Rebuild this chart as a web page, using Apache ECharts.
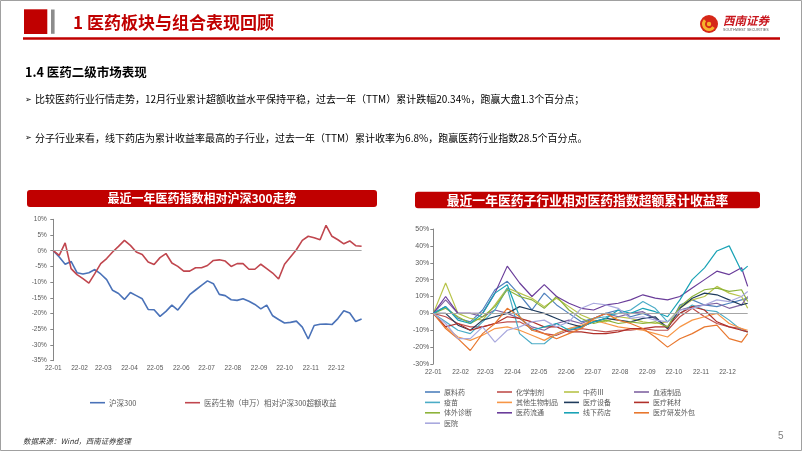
<!DOCTYPE html>
<html><head><meta charset="utf-8">
<script src="https://cdn.jsdelivr.net/npm/echarts@6/dist/echarts.min.js"></script>
<style>html,body{margin:0;padding:0;background:#fff}#c{width:802px;height:451px}</style>
</head><body><div id="c"></div>
<script>
// ---------- data ----------
const weeks = ['2022-01-01','2022-01-08','2022-01-15','2022-01-22','2022-01-29','2022-02-05','2022-02-12','2022-02-19','2022-02-26','2022-03-05','2022-03-12','2022-03-19','2022-03-26','2022-04-02','2022-04-09','2022-04-16','2022-04-23','2022-04-30','2022-05-07','2022-05-14','2022-05-21','2022-05-28','2022-06-04','2022-06-11','2022-06-18','2022-06-25','2022-07-02','2022-07-09','2022-07-16','2022-07-23','2022-07-30','2022-08-06','2022-08-13','2022-08-20','2022-08-27','2022-09-03','2022-09-10','2022-09-17','2022-09-24','2022-10-01','2022-10-08','2022-10-15','2022-10-22','2022-10-29','2022-11-05','2022-11-12','2022-11-19','2022-11-26','2022-12-03','2022-12-10','2022-12-17','2022-12-24','2022-12-31'];
const hs300 = [0,-2,-4.3,-3.4,-7,-7.4,-7,-6,-7.4,-9.2,-12.6,-13.6,-15.5,-13.3,-14.3,-15.3,-18.7,-18.8,-20.9,-19.3,-17.3,-18.9,-16.5,-14,-12.5,-11,-9.6,-10.5,-13.9,-14.3,-15.6,-15.8,-15.3,-16.1,-17.1,-18.5,-17.3,-20.7,-21.9,-23.0,-22.8,-22.4,-24.3,-28.1,-23.8,-23.4,-23.3,-23.5,-21.6,-19.1,-19.8,-22.5,-21.7];
const pharmaExcess = [0,-1.5,2.5,-5.7,-7.6,-8.9,-10.3,-7.3,-4.1,-2.5,-0.4,1.4,3.3,1.7,-0.4,-1.2,-3.6,-4.4,-2.2,-0.9,-3.9,-5.0,-6.5,-6.5,-5.4,-5.4,-4.7,-3.1,-2.9,-3.3,-5.0,-4.1,-4.1,-5.9,-5.9,-4.3,-5.7,-7.1,-9.0,-4.3,-2.0,0.3,3.3,4.6,4.1,3.5,8.1,4.6,3.5,2.2,3.1,1.6,1.4];

const biweeks = ['2022-01-01','2022-01-15','2022-01-29','2022-02-12','2022-02-26','2022-03-12','2022-03-26','2022-04-09','2022-04-23','2022-05-07','2022-05-21','2022-06-04','2022-06-18','2022-07-02','2022-07-16','2022-07-30','2022-08-13','2022-08-27','2022-09-10','2022-09-24','2022-10-08','2022-10-22','2022-11-05','2022-11-19','2022-12-03','2022-12-17','2022-12-24'];
const yuanLiaoYao   = [0,4,-3,-5,2,14,19,11,2,12,5,0,-5,-3,0,2,-2,0,-3,-9,5,8,5,4,6,8,9];
const huaXueZhiJi   = [0,-2,-6,-8,-8,-6,-5,-5,-9,-12,-13,-10,-9,-10,-11,-10,-10,-9,-10,-10,-2,3,-2,-6,-8,-9,-11];
const zhongYao      = [0,18,0,-3,-4,5,15,12,9,4,9,4,-1,-4,-5,-2,-3,-5,-6,-5,3,8,10,16,12,10,3];
const xueYe         = [0,8,0,0,-2,2,0,-3,-8,-10,-6,-4,-6,-3,0,-2,0,1,-3,-8,2,4,5,6,3,5,10];
const yiMiao        = [0,-5,-10,-12,-5,2,15,-12,-18,-18,-12,-9,-8,-3,-2,0,2,7,3,-5,0,5,2,1,-4,-10,-11];
const qiTaShengWu   = [0,-8,-14,-16,-13,-9,-8,-10,-13,-16,-12,-9,-7,-4,-6,-8,-9,-10,-12,-14,-8,-4,-2,0,-6,-9,-10];
const sheBei        = [0,0,-7,-10,-4,-2,0,4,2,0,-3,-6,-8,-5,-3,-4,-5,-3,-2,-9,3,9,12,11,8,5,6];
const haoCai        = [0,-8,-6,-10,-8,-6,-2,-3,-5,-8,-8,-11,-11,-12,-12,-11,-9,-9,-8,-8,0,4,2,-5,-8,-10,-11];
const tiWai         = [0,3,-2,-6,-2,4,14,10,8,3,10,2,-3,-6,-4,-6,-5,-6,-5,-8,4,10,14,15,13,14,7];
const liuTong       = [0,10,0,0,0,12,28,18,10,17,10,6,3,2,5,6,8,11,9,8,10,15,20,25,23,27,16];
const yaoDian        = [0,4,-4,-6,0,12,17,-2,-10,-8,-6,-10,-8,-5,-3,2,0,3,1,-2,8,20,27,37,40,25,28];
const waiBao        = [0,-9,-15,-22,-12,-6,3,-2,-10,-12,-15,-12,-9,-3,0,-4,-6,-9,-14,-20,-15,-12,-8,-7,-15,-17,-12];
const yiYuan        = [0,-6,-15,-15,-8,-17,-10,-8,-5,-4,-8,-5,3,6,5,3,-3,-2,-4,-5,2,3,5,8,7,10,13];

const subNames = ['原料药','化学制剂','中药Ⅲ','血液制品','疫苗','其他生物制品','医疗设备','医疗耗材','体外诊断','医药流通','线下药店','医疗研发外包','医院'];
const subData = [yuanLiaoYao,huaXueZhiJi,zhongYao,xueYe,yiMiao,qiTaShengWu,sheBei,haoCai,tiWai,liuTong,yaoDian,waiBao,yiYuan];
const subColors = ['#4F81BD','#C0504D','#B8C44A','#8064A2','#4BACC6','#F79646','#1F3B5C','#B0302A','#8DB33A','#6A3D9A','#1AA3B6','#E8772E','#A9A9DE'];

// ---------- chart ----------
const CJK = '"Noto Sans CJK SC", "Liberation Sans", sans-serif';
const NUM = '"Liberation Sans", Arial, sans-serif';
const chart = echarts.init(document.getElementById('c'));

function T(x, y, text, st) {
  return {type:'text', x:x, y:y, silent:true,
    style: Object.assign({text:text, fill:'#000', fontSize:10, fontFamily:CJK, verticalAlign:'middle', align:'left'}, st || {})};
}
function R(x, y, w, h, fill, r) {
  return {type:'rect', silent:true, shape:{x:x, y:y, width:w, height:h, r:r||0}, style:{fill:fill}};
}

const xBase = {
  type:'time', splitNumber:12, minInterval:28*864e5, maxInterval:31*864e5,
  axisLine:{show:false}, axisTick:{show:false}, splitLine:{show:false},
  axisLabel:{formatter:'{yy}-{MM}', fontSize:6.5, color:'#595959', fontFamily:NUM, hideOverlap:false, showMaxLabel:false}
};
function yAxis(min, max, itv, gi, margin, fs) {
  return {type:'value', gridIndex:gi, min:min, max:max, interval:itv,
    axisLine:{show:true, lineStyle:{color:'#868686', width:1}},
    axisTick:{show:true, length:3, lineStyle:{color:'#868686'}},
    splitLine:{show:false},
    axisLabel:{formatter:'{value}%', fontSize:fs, color:'#595959', fontFamily:NUM, margin:margin}};
}
const zeroLine = {silent:true, symbol:'none', label:{show:false}, lineStyle:{color:'#A6A6A6', type:'solid', width:1}, data:[{yAxis:0}], animation:false};

const series = [
  {name:'沪深300', type:'line', xAxisIndex:0, yAxisIndex:0, data: weeks.map((d,i)=>[d, hs300[i]]),
   showSymbol:false, color:'#4A72B8', lineStyle:{width:1.6}, markLine: zeroLine, z:3},
  {name:'医药生物（申万）相对沪深300超额收益', type:'line', xAxisIndex:0, yAxisIndex:0, data: weeks.map((d,i)=>[d, pharmaExcess[i]]),
   showSymbol:false, color:'#C0464E', lineStyle:{width:1.6}, z:3}
];
subNames.forEach((n, k) => {
  const s = {name:n, type:'line', xAxisIndex:1, yAxisIndex:1, data: biweeks.map((d,i)=>[d, subData[k][i]]),
    showSymbol:false, color:subColors[k], lineStyle:{width:1.2}, z:3};
  if (k === 0) s.markLine = zeroLine;
  series.push(s);
});

function legend(left, top, names, gap, fs) {
  return {left:left, top:top, orient:'vertical', padding:0, itemGap:gap, itemWidth:15, itemHeight:1.6, icon:'rect',
    selectedMode:false, data:names,
    textStyle:{fontSize:fs, color:'#595959', fontFamily:CJK, lineHeight:10, padding:[0,0,0,-1]}};
}

chart.setOption({
  animation:false,
  backgroundColor:'#fff',
  grid:[
    {left:53.3, top:219.3, width:308.3, height:141.4},
    {left:433.3, top:229, width:314.4, height:135}
  ],
  xAxis:[
    Object.assign({}, xBase, {gridIndex:0, min:'2022-01-01', max:'2022-12-31', axisLabel:Object.assign({}, xBase.axisLabel, {margin:4})}),
    Object.assign({}, xBase, {gridIndex:1, min:'2022-01-01', max:'2022-12-24', axisLabel:Object.assign({}, xBase.axisLabel, {margin:5})})
  ],
  yAxis:[ yAxis(-35, 10, 5, 0, 6.5, 6.5), yAxis(-30, 50, 10, 1, 4, 7) ],
  legend:[
    legend(90, 397.7, ['沪深300'], 0, 7.5),
    legend(185, 397.7, ['医药生物（申万）相对沪深300超额收益'], 0, 7.5),
    legend(425, 387, ['原料药','疫苗','体外诊断','医院'], 0.4, 7),
    legend(497, 387, ['化学制剂','其他生物制品','医药流通'], 0.4, 7),
    legend(564, 387, ['中药Ⅲ','医疗设备','线下药店'], 0.4, 7),
    legend(634, 387, ['血液制品','医疗耗材','医疗研发外包'], 0.4, 7)
  ],
  graphic:[
    {type:'rect', silent:true, shape:{x:0.5, y:0.5, width:801, height:450}, style:{fill:'none', stroke:'#A0A0A0', lineWidth:1}},
    R(24, 9.3, 23.3, 24.7, '#C00000'),
    R(51, 9.5, 3.6, 24.3, '#8C8C8C'),
    T(73, 23, '1 医药板块与组合表现回顾', {fill:'#C00000', fontSize:17, fontWeight:'bold'}),
    R(23, 37.3, 757, 2.4, '#C00000'),
    // logo
    {type:'circle', silent:true, shape:{cx:709, cy:24, r:9}, style:{fill:'#D62718'}},
    {type:'arc', silent:true, shape:{cx:709, cy:24, r:5.5, startAngle:0.6, endAngle:3.9}, style:{stroke:'#F6B12B', lineWidth:3, fill:'none'}},
    {type:'circle', silent:true, shape:{cx:709, cy:24, r:2.2}, style:{fill:'#F6B12B'}},
    T(723, 21, '西南证券', {fill:'#C8161D', fontSize:11.5, fontWeight:'bold', fontStyle:'italic'}),
    T(723, 29.5, 'SOUTHWEST SECURITIES', {fill:'#555', fontSize:3.6, fontFamily:NUM}),
    T(25, 72, '1.4 医药二级市场表现', {fontSize:12.5, fontWeight:'bold'}),
    T(25, 99.5, '➢', {fontSize:8, fontFamily:'"DejaVu Sans", sans-serif'}),
    T(35, 99.5, '比较医药行业行情走势，12月行业累计超额收益水平保持平稳，过去一年（TTM）累计跌幅20.34%，跑赢大盘1.3个百分点；', {fontSize:10}),
    T(25, 138, '➢', {fontSize:8, fontFamily:'"DejaVu Sans", sans-serif'}),
    T(35, 138, '分子行业来看，线下药店为累计收益率最高的子行业，过去一年（TTM）累计收率为6.8%，跑赢医药行业指数28.5个百分点。', {fontSize:10}),
    R(27, 190, 350, 17, '#C00000', 3),
    T(202, 198.7, '最近一年医药指数相对沪深300走势', {fill:'#fff', fontSize:12, fontWeight:'bold', align:'center'}),
    R(415, 191.7, 345, 16.6, '#C00000', 3),
    T(587.5, 200.2, '最近一年医药子行业相对医药指数超额累计收益率', {fill:'#fff', fontSize:12.8, fontWeight:'bold', align:'center'}),
    T(23, 441, '数据来源：Wind，西南证券整理', {fill:'#333', fontSize:7.5, fontStyle:'italic'}),
    T(778, 436, '5', {fill:'#808080', fontSize:10, fontFamily:NUM})
  ],
  series: series
});
</script>
</body></html>
